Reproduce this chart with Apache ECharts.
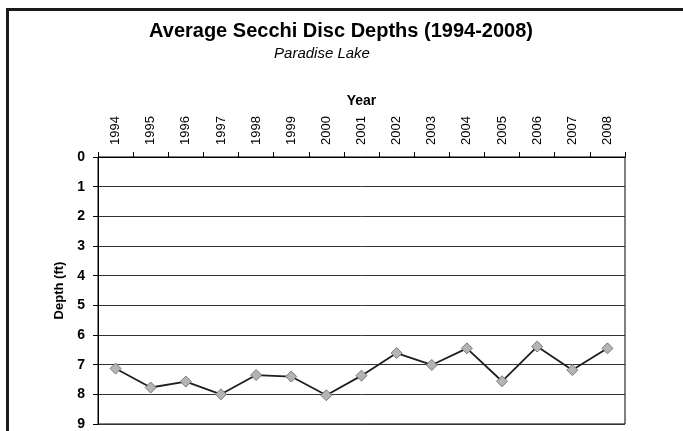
<!DOCTYPE html>
<html>
<head>
<meta charset="utf-8">
<title>Average Secchi Disc Depths (1994-2008)</title>
<script src="https://cdn.jsdelivr.net/npm/echarts@6/dist/echarts.min.js"></script>
<style>
  html, body { margin: 0; padding: 0; background: #fff; }
  #chart { width: 683px; height: 431px; }
</style>
</head>
<body>
<div id="chart"></div>
<script>
// Sampling years and average Secchi disc depth (ft) for each year
const years = ['1994', '1995', '1996', '1997', '1998', '1999', '2000', '2001',
               '2002', '2003', '2004', '2005', '2006', '2007', '2008'];
const depths = [7.13, 7.77, 7.57, 8.0, 7.35, 7.4, 8.03, 7.37,
                6.61, 7.01, 6.45, 7.56, 6.39, 7.18, 6.45];
const depthTicks = [0, 1, 2, 3, 4, 5, 6, 7, 8, 9];

const FONT = '"Liberation Sans", Arial, sans-serif';

const chart = echarts.init(document.getElementById('chart'), null, { renderer: 'canvas' });

chart.setOption({
  animation: false,
  backgroundColor: '#ffffff',
  title: [
    {
      text: 'Average Secchi Disc Depths (1994-2008)',
      left: 336, top: 16, textAlign: 'center',
      textStyle: { fontFamily: FONT, fontSize: 20, fontWeight: 'bold', color: '#000' }
    },
    {
      text: 'Paradise Lake',
      left: 317, top: 41, textAlign: 'center',
      textStyle: { fontFamily: FONT, fontSize: 15, fontWeight: 'normal', fontStyle: 'italic', color: '#000' }
    }
  ],
  graphic: [
    // frame edges around the chart
    { type: 'line', silent: true, shape: { x1: 6, y1: 9.5, x2: 683, y2: 9.5 },
      style: { stroke: '#1a1a1a', lineWidth: 3 } },
    { type: 'line', silent: true, shape: { x1: 7.5, y1: 8, x2: 7.5, y2: 431 },
      style: { stroke: '#1a1a1a', lineWidth: 3 } }
  ],
  grid: { left: 98, right: 58, top: 157, bottom: 4, show: true,
          borderColor: '#000', borderWidth: 1, backgroundColor: 'transparent' },
  xAxis: {
    type: 'category',
    data: years,
    position: 'top',
    boundaryGap: true,
    name: 'Year',
    nameLocation: 'middle',
    nameGap: 49,
    nameTextStyle: { fontFamily: FONT, fontSize: 14, fontWeight: 'bold', color: '#000' },
    axisLine: { lineStyle: { color: '#000', width: 1 } },
    axisTick: { show: true, inside: false, length: 5, interval: 0, lineStyle: { color: '#000' } },
    axisLabel: { rotate: 90, margin: 12, interval: 0, fontFamily: FONT, fontSize: 13, color: '#000' },
    splitLine: { show: false }
  },
  yAxis: {
    type: 'value',
    inverse: true,
    min: depthTicks[0],
    max: depthTicks[depthTicks.length - 1],
    interval: 1,
    name: 'Depth (ft)',
    nameLocation: 'middle',
    nameGap: 31,
    nameTextStyle: { fontFamily: FONT, fontSize: 13, fontWeight: 'bold', color: '#000' },
    axisLine: { show: true, lineStyle: { color: '#000', width: 1 } },
    axisTick: { show: true, inside: false, length: 5, lineStyle: { color: '#000' } },
    axisLabel: { margin: 13, fontFamily: FONT, fontSize: 14, fontWeight: 'bold', color: '#000' },
    splitLine: { show: true, lineStyle: { color: '#333', width: 1 } }
  },
  series: [{
    type: 'line',
    data: depths,
    symbol: 'diamond',
    symbolSize: 11,
    itemStyle: { color: '#b4b4b4', borderColor: '#7a7a7a', borderWidth: 1 },
    lineStyle: { color: '#1e1e1e', width: 1.8 },
    z: 5
  }]
});
</script>
</body>
</html>
